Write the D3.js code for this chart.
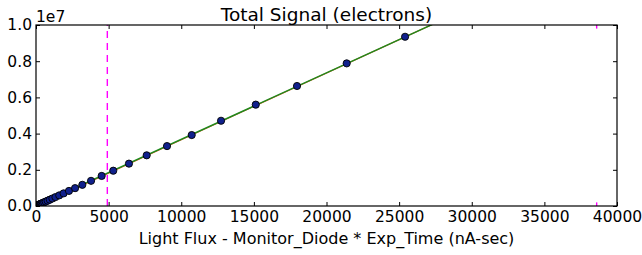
<!DOCTYPE html>
<html><head><meta charset="utf-8">
<script src="https://cdn.jsdelivr.net/npm/d3@7"></script>
<style>
body{margin:0;background:#fff;}
text{font-family:"DejaVu Sans",sans-serif;fill:#000;}
</style></head>
<body><svg id="c" width="642" height="255"></svg>
<script>
// Data
const fluxValues = [60, 75, 95, 115, 140, 170, 200, 240, 285, 340, 400, 475, 565, 670, 800, 950, 1130, 1340, 1600, 1900, 2270, 2690, 3190, 3790, 4520, 5320, 6400, 7620, 9020, 10720, 12740, 15130, 17970, 21390, 25410];
const signalValues = [0.022e6, 0.028e6, 0.035e6, 0.042e6, 0.051e6, 0.062e6, 0.074e6, 0.088e6, 0.105e6, 0.125e6, 0.147e6, 0.175e6, 0.208e6, 0.246e6, 0.294e6, 0.349e6, 0.415e6, 0.492e6, 0.587e6, 0.697e6, 0.833e6, 0.987e6, 1.17e6, 1.39e6, 1.66e6, 1.95e6, 2.34e6, 2.80e6, 3.31e6, 3.92e6, 4.71e6, 5.60e6, 6.63e6, 7.88e6, 9.35e6];
const fitGreen = [[0, 0.01e6], [40000, 14.70e6]];
const fitRed = [[0, -0.03e6], [40000, 14.72e6]];
const markerLines = [4910, 38600];
const xTicks = [0, 5000, 10000, 15000, 20000, 25000, 30000, 35000, 40000];
const yTicks = [0, 0.2e7, 0.4e7, 0.6e7, 0.8e7, 1.0e7];
const title = "Total Signal (electrons)";
const xLabel = "Light Flux - Monitor_Diode * Exp_Time (nA-sec)";

const svg = d3.select("#c");
const m = {l:36, r:617, t:25, b:206};
const x = d3.scaleLinear().domain([0, 40000]).range([m.l, m.r]);
const y = d3.scaleLinear().domain([0, 1e7]).range([m.b, m.t]);

svg.append("defs").append("clipPath").attr("id","clip")
  .append("rect").attr("x", m.l).attr("y", m.t).attr("width", m.r-m.l).attr("height", m.b-m.t);

const plot = svg.append("g").attr("clip-path","url(#clip)");

// dashed vertical line
plot.append("line")
  .attr("x1", x(markerLines[0])).attr("x2", x(markerLines[0]))
  .attr("y1", y(0)).attr("y2", y(1e7))
  .attr("stroke", "#ff00ff").attr("stroke-width", 1.4)
  .attr("stroke-dasharray", "7,5");
// second marker: only visible at edges
[[0, 0.02e7],[0.98e7, 1e7]].forEach(seg => {
  plot.append("line")
    .attr("x1", x(markerLines[1])).attr("x2", x(markerLines[1]))
    .attr("y1", y(seg[0])).attr("y2", y(seg[1]))
    .attr("stroke", "#ff00ff").attr("stroke-width", 1.4);
});

const line = d3.line().x(d => x(d[0])).y(d => y(d[1]));
plot.append("path").datum(fitRed).attr("d", line)
  .attr("fill","none").attr("stroke","#e8501a").attr("stroke-width",1.2);
plot.append("path").datum(fitGreen).attr("d", line)
  .attr("fill","none").attr("stroke","#1e8a1e").attr("stroke-width",1.4);

plot.selectAll("circle").data(fluxValues.map((f,i)=>[f, signalValues[i]]))
  .enter().append("circle")
  .attr("cx", d => x(d[0])).attr("cy", d => y(d[1])).attr("r", 3.6)
  .attr("fill", "#10208c").attr("stroke", "#000").attr("stroke-width", 0.9);

// axes
const tl = 4;
const fs = 15.5;
const axB = d3.axisBottom(x).tickValues(xTicks).tickSize(-tl).tickPadding(5).tickFormat(d3.format("d"));
const axT = d3.axisTop(x).tickValues(xTicks).tickSize(-tl).tickFormat("");
const axL = d3.axisLeft(y).tickValues(yTicks).tickSize(-tl).tickPadding(4).tickFormat(d => (d/1e7).toFixed(1));
const axR = d3.axisRight(y).tickValues(yTicks).tickSize(-tl).tickFormat("");
function style(g){ g.select(".domain").remove(); g.selectAll("line").attr("stroke","#000"); g.selectAll("text").attr("font-size", fs).attr("font-family","DejaVu Sans").attr("fill","#000"); }
svg.append("g").attr("transform",`translate(0,${m.b})`).call(axB).call(style);
svg.append("g").attr("transform",`translate(0,${m.t})`).call(axT).call(style);
svg.append("g").attr("transform",`translate(${m.l},0)`).call(axL).call(style);
svg.append("g").attr("transform",`translate(${m.r},0)`).call(axR).call(style);

svg.append("rect").attr("x", m.l).attr("y", m.t).attr("width", m.r-m.l).attr("height", m.b-m.t)
  .attr("fill","none").attr("stroke","#000").attr("stroke-width",1.2);

svg.append("text").attr("x", 36).attr("y", 22).attr("font-size", fs).text("1e7");
svg.append("text").attr("x", (m.l+m.r)/2).attr("y", 20.5).attr("text-anchor","middle").attr("font-size", 18.5).text(title);
svg.append("text").attr("x", (m.l+m.r)/2).attr("y", 244).attr("text-anchor","middle").attr("font-size", 16).text(xLabel);
</script></body></html>
